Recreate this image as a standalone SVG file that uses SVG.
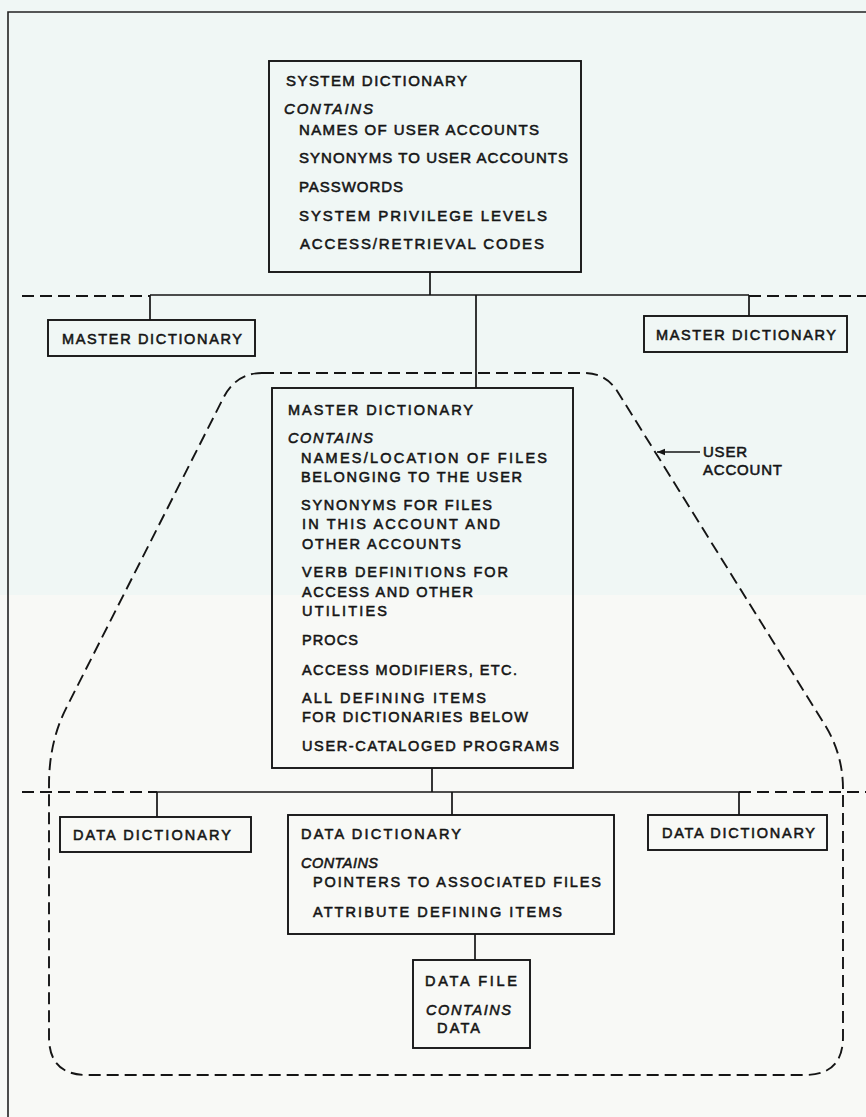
<svg xmlns="http://www.w3.org/2000/svg" width="866" height="1117" viewBox="0 0 866 1117">
<style>
.box{fill:none;stroke:#151515;stroke-width:1.9}
.ln{fill:none;stroke:#151515;stroke-width:1.7}
.dash{fill:none;stroke:#151515;stroke-width:1.9;stroke-dasharray:12 6}
text{font-family:"Liberation Sans",Arial,sans-serif;fill:#151515;stroke:#151515;stroke-width:0.55;font-size:14.5px}
.t15{font-size:15px}
.it{font-style:italic}
</style>
<defs>
<marker id="ah" viewBox="0 0 10 10" refX="10" refY="5" markerWidth="8" markerHeight="8" markerUnits="userSpaceOnUse" orient="auto">
<path d="M0,1 L10,5 L0,9 z" fill="#151515"/>
</marker>
</defs>
<rect x="0" y="0" width="866" height="595" fill="#f0f7f5"/>
<rect x="0" y="595" width="866" height="522" fill="#f8f9f6"/>
<path d="M8,1117 L8,12 L866,12" fill="none" stroke="#222" stroke-width="1.6"/>

<g id="connectors">
<path class="ln" d="M430,272 V295 M150,295 H749 M150,295 V320 M749,295 V316 M476,295 V388"/>
<path class="ln" d="M432,768 V792 M157,792 H739 M157,792 V817 M452,792 V815 M739,792 V815"/>
<path class="ln" d="M475,934 V960"/>
<path class="dash" d="M22,296 H150 M749,296 H866"/>
<path class="dash" d="M22,792 H157 M739,792 H866"/>
<line class="ln" x1="700" y1="452" x2="657" y2="452" marker-end="url(#ah)"/>
</g>

<g id="user-account">
<path class="dash" d="M262,373 L584,373 Q606,373 617.6,391.7 L824.5,724.3 Q843,754 843,789 L843,1037 Q843,1075 805,1075 L87,1075 Q49,1075 49,1037 L49,785 Q49,742 66.2,708.1 L223.3,398 Q236,373 262,373 Z"/>
<text class="t15" x="703" y="457" textLength="44">USER</text>
<text class="t15" x="703" y="475" textLength="79">ACCOUNT</text>
</g>

<g id="system-dictionary">
<rect class="box" x="269" y="61" width="312" height="211"/>
<text class="t15" x="286" y="86" textLength="181">SYSTEM DICTIONARY</text>
<text class="t15 it" x="284" y="114" textLength="89">CONTAINS</text>
<text class="t15" x="299" y="135" textLength="240">NAMES OF USER ACCOUNTS</text>
<text class="t15" x="299" y="163" textLength="269">SYNONYMS TO USER ACCOUNTS</text>
<text class="t15" x="299" y="192" textLength="104">PASSWORDS</text>
<text class="t15" x="299" y="221" textLength="248">SYSTEM PRIVILEGE LEVELS</text>
<text class="t15" x="300" y="249" textLength="244">ACCESS/RETRIEVAL CODES</text>
</g>

<g id="master-left">
<rect class="box" x="48" y="320" width="207" height="36"/>
<text x="62" y="344" textLength="180">MASTER DICTIONARY</text>
</g>

<g id="master-right">
<rect class="box" x="644" y="316" width="203" height="36"/>
<text x="656" y="340" textLength="180">MASTER DICTIONARY</text>
</g>

<g id="master-dictionary">
<rect class="box" x="272" y="388" width="301" height="380"/>
<text x="288" y="415" textLength="185">MASTER DICTIONARY</text>
<text class="it" x="288" y="443" textLength="85">CONTAINS</text>
<text x="301" y="463" textLength="246">NAMES/LOCATION OF FILES</text>
<text x="301" y="482" textLength="221">BELONGING TO THE USER</text>
<text x="301" y="510" textLength="191">SYNONYMS FOR FILES</text>
<text x="302" y="529" textLength="198">IN THIS ACCOUNT AND</text>
<text x="302" y="549" textLength="159">OTHER ACCOUNTS</text>
<text x="302" y="577" textLength="206">VERB DEFINITIONS FOR</text>
<text x="302" y="597" textLength="171">ACCESS AND OTHER</text>
<text x="302" y="616" textLength="85">UTILITIES</text>
<text x="302" y="645" textLength="56">PROCS</text>
<text x="302" y="675" textLength="215">ACCESS MODIFIERS, ETC.</text>
<text x="302" y="703" textLength="184">ALL DEFINING ITEMS</text>
<text x="302" y="722" textLength="226">FOR DICTIONARIES BELOW</text>
<text x="302" y="751" textLength="257">USER-CATALOGED PROGRAMS</text>
</g>

<g id="data-left">
<rect class="box" x="60" y="817" width="191" height="35"/>
<text x="73" y="840" textLength="158">DATA DICTIONARY</text>
</g>

<g id="data-dictionary">
<rect class="box" x="288" y="815" width="326" height="119"/>
<text x="301" y="839" textLength="160">DATA DICTIONARY</text>
<text class="it" x="301" y="868" textLength="77">CONTAINS</text>
<text x="313" y="887" textLength="288">POINTERS TO ASSOCIATED FILES</text>
<text x="313" y="917" textLength="249">ATTRIBUTE DEFINING ITEMS</text>
</g>

<g id="data-right">
<rect class="box" x="648" y="815" width="179" height="35"/>
<text x="662" y="838" textLength="153">DATA DICTIONARY</text>
</g>

<g id="data-file">
<rect class="box" x="413" y="960" width="117" height="88"/>
<text x="425" y="986" textLength="92">DATA FILE</text>
<text class="it" x="426" y="1015" textLength="85">CONTAINS</text>
<text x="437" y="1033" textLength="43">DATA</text>
</g>
</svg>
